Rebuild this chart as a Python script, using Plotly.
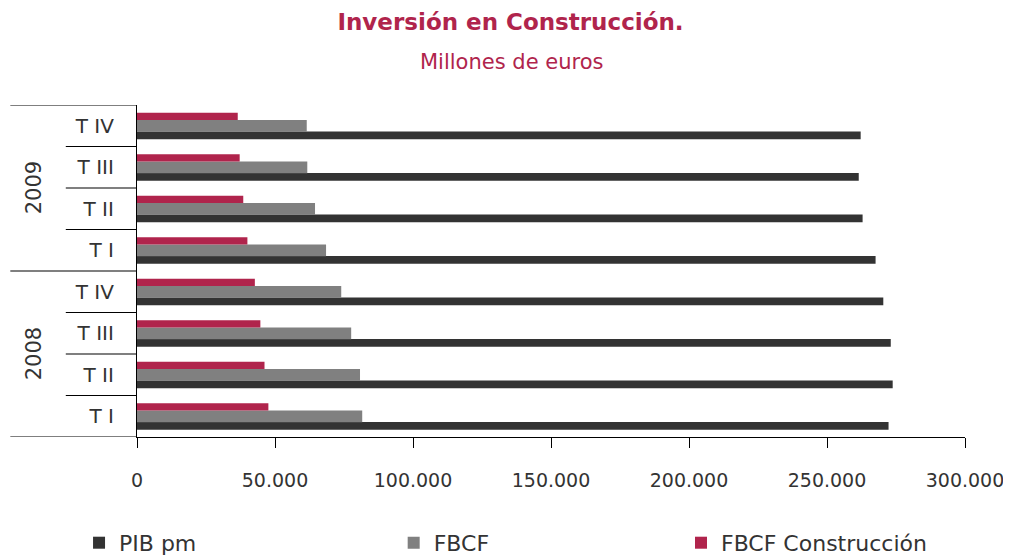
import plotly.graph_objects as go

# categories, bottom to top
years = ["2008", "2008", "2008", "2008", "2009", "2009", "2009", "2009"]
quarters = ["T I", "T II", "T III", "T IV", "T I", "T II", "T III", "T IV"]

# millones de euros
pib_pm = [272300, 273800, 273100, 270400, 267600, 262900, 261500, 262200]
fbcf = [81600, 80800, 77600, 74000, 68500, 64500, 61700, 61500]
fbcf_constr = [47600, 46200, 44700, 42700, 40000, 38500, 37200, 36500]

pos = list(range(len(quarters)))
red = "#B0244C"
txt = "#333333"
font = "DejaVu Sans"

fig = go.Figure()
fig.add_trace(go.Bar(y=pos, x=pib_pm, orientation="h", name="PIB pm",
                     width=0.185, offset=-0.325, legend="legend", showlegend=True,
                     marker=dict(color="#333333", line=dict(width=0))))
fig.add_trace(go.Bar(y=pos, x=fbcf, orientation="h", name="FBCF",
                     width=0.28, offset=-0.142, legend="legend2", showlegend=True,
                     marker=dict(color="#808080", line=dict(width=0))))
fig.add_trace(go.Bar(y=pos, x=fbcf_constr, orientation="h", name="FBCF Construcción",
                     width=0.176, offset=0.138, legend="legend3", showlegend=True,
                     marker=dict(color=red, line=dict(width=0))))

# separators on the category axis
shapes = []
lx_long, lx_short = -0.153, -0.086
for i in range(len(pos) + 1):
    y = i - 0.5
    edge = i == 0 or i == len(pos) or years[i] != years[i - 1]
    shapes.append(dict(type="line", xref="paper", yref="y",
                       x0=lx_long if edge else lx_short, x1=0, y0=y, y1=y,
                       line=dict(color="black", width=1.2)))

annotations = []
for yr in sorted(set(years)):
    idx = [i for i, v in enumerate(years) if v == yr]
    annotations.append(dict(text=yr, xref="paper", yref="y", x=-0.124, xanchor="center",
                            y=sum(idx) / len(idx), yanchor="middle", textangle=-90,
                            showarrow=False, font=dict(family=font, size=21, color=txt)))
annotations.append(dict(text="Millones de euros", xref="paper", yref="paper",
                        x=0.452, y=1.13, xanchor="center", yanchor="middle", showarrow=False,
                        font=dict(family=font, size=21, color=red)))

leg = dict(orientation="h", y=-0.319, yanchor="middle", xanchor="left",
           bgcolor="rgba(0,0,0,0)", font=dict(family=font, size=22, color=txt))

# the page body adds an 8px margin, so the figure is drawn 8px smaller
fig.update_layout(
    width=1003, height=547,
    margin=dict(l=129, r=46, t=97, b=118, autoexpand=False),
    paper_bgcolor="white", plot_bgcolor="white",
    barmode="overlay", showlegend=True,
    separators=",.",
    title=dict(text="<b>Inversión en Construcción.</b>", x=0.501, xanchor="center",
               y=0.974, yanchor="middle", font=dict(family=font, size=23, color=red)),
    xaxis=dict(range=[0, 300000], dtick=50000, tickformat=",", showgrid=False,
               zeroline=False, showline=True, linecolor="black", linewidth=1.2,
               ticks="outside", ticklen=10, tickcolor="black", ticklabelstandoff=16,
               automargin=False,
               tickfont=dict(family=font, size=19, color=txt)),
    yaxis=dict(range=[-0.5, len(pos) - 0.5], tickvals=pos, ticktext=quarters,
               showgrid=False, zeroline=False, showline=True, linecolor="black",
               linewidth=1.2, ticks="", ticklabelstandoff=18, automargin=False,
               tickfont=dict(family=font, size=20, color=txt)),
    legend=dict(leg, x=-0.070),
    legend2=dict(leg, x=0.310),
    legend3=dict(leg, x=0.657),
    shapes=shapes, annotations=annotations,
)

fig.write_html("out.html")
